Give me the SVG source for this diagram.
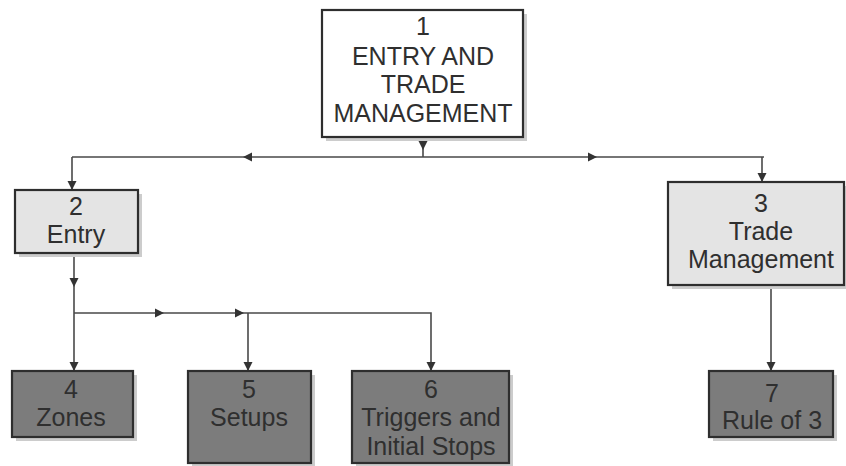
<svg xmlns="http://www.w3.org/2000/svg" xmlns:xlink="http://www.w3.org/1999/xlink" width="846" height="466" viewBox="0 0 846 466">
<style>
.box{stroke:#2e2e2e;stroke-width:2.2}
.white{fill:#ffffff}
.light{fill:#e4e4e4}
.dark{fill:#7c7c7c}
.shadow{fill:#cccccc}
.lbl{font-family:"Liberation Sans",Arial,sans-serif;font-size:25px;fill:#2f2f2f;text-anchor:middle}
.conn{fill:none;stroke:#4a4a4a;stroke-width:1.6}
.ah{fill:#333333}
</style>
<defs>
<polygon id="ah" points="0,0 -9,-4.5 -9,4.5"/>
</defs>
<rect width="846" height="466" fill="#ffffff"/>
<g id="connectors">
<path class="conn" d="M423,137 V157 M72,157 H764 M72,157 V190 M762,157 V182"/>
<path class="conn" d="M74,253 V371 M74,313 H431 V371 M248,313 V371"/>
<path class="conn" d="M771,285 V371"/>
<g class="ah">
<use xlink:href="#ah" transform="translate(423,150) rotate(90)"/>
<use xlink:href="#ah" transform="translate(243,157) rotate(180)"/>
<use xlink:href="#ah" transform="translate(597,157)"/>
<use xlink:href="#ah" transform="translate(72,190) rotate(90)"/>
<use xlink:href="#ah" transform="translate(762,182) rotate(90)"/>
<use xlink:href="#ah" transform="translate(74,287) rotate(90)"/>
<use xlink:href="#ah" transform="translate(164,313)"/>
<use xlink:href="#ah" transform="translate(244,313)"/>
<use xlink:href="#ah" transform="translate(74,371) rotate(90)"/>
<use xlink:href="#ah" transform="translate(248,371) rotate(90)"/>
<use xlink:href="#ah" transform="translate(431,371) rotate(90)"/>
<use xlink:href="#ah" transform="translate(771,371) rotate(90)"/>
</g>
</g>
<g id="node1">
<rect class="shadow" x="326" y="14" width="201" height="127"/>
<rect class="box white" x="322" y="10" width="201" height="127"/>
<text class="lbl" x="423" y="35">1</text>
<text class="lbl" x="423" y="65">ENTRY AND</text>
<text class="lbl" x="423" y="93">TRADE</text>
<text class="lbl" x="423" y="122">MANAGEMENT</text>
</g>
<g id="node2">
<rect class="shadow" x="19" y="194" width="123" height="63"/>
<rect class="box light" x="15" y="190" width="123" height="63"/>
<text class="lbl" x="76" y="215">2</text>
<text class="lbl" x="76" y="243">Entry</text>
</g>
<g id="node3">
<rect class="shadow" x="672" y="186" width="176" height="103"/>
<rect class="box light" x="668" y="182" width="176" height="103"/>
<text class="lbl" x="761" y="212">3</text>
<text class="lbl" x="761" y="240">Trade</text>
<text class="lbl" x="761" y="268">Management</text>
</g>
<g id="node4">
<rect class="shadow" x="16" y="375" width="121" height="66"/>
<rect class="box dark" x="12" y="371" width="121" height="66"/>
<text class="lbl" x="71" y="398">4</text>
<text class="lbl" x="71" y="426">Zones</text>
</g>
<g id="node5">
<rect class="shadow" x="192" y="375" width="123" height="92"/>
<rect class="box dark" x="188" y="371" width="123" height="92"/>
<text class="lbl" x="249" y="398">5</text>
<text class="lbl" x="249" y="426">Setups</text>
</g>
<g id="node6">
<rect class="shadow" x="356" y="375" width="157" height="92"/>
<rect class="box dark" x="352" y="371" width="157" height="92"/>
<text class="lbl" x="431" y="398">6</text>
<text class="lbl" x="431" y="426">Triggers and</text>
<text class="lbl" x="431" y="455">Initial Stops</text>
</g>
<g id="node7">
<rect class="shadow" x="713" y="375" width="124" height="66"/>
<rect class="box dark" x="709" y="371" width="124" height="66"/>
<text class="lbl" x="772" y="402">7</text>
<text class="lbl" x="772" y="429">Rule of 3</text>
</g>
</svg>
